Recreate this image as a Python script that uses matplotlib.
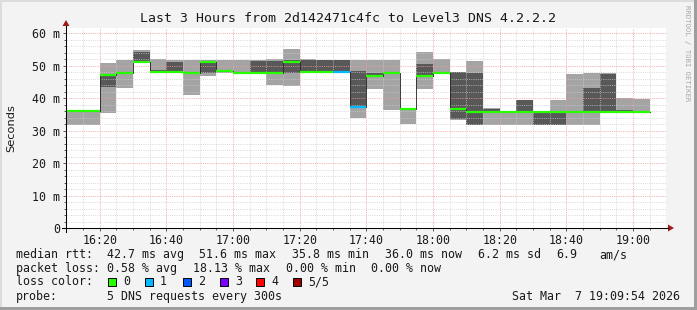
import matplotlib
matplotlib.use("Agg")
import matplotlib.pyplot as plt
import matplotlib.transforms as mtransforms
from matplotlib.lines import Line2D
from matplotlib.patches import Rectangle, Polygon
import numpy as np

# ---------------- data ----------------
step_starts = ["16:10", "16:15", "16:20", "16:25", "16:30", "16:35", "16:40", "16:45",
               "16:50", "16:55", "17:00", "17:05", "17:10", "17:15", "17:20", "17:25",
               "17:30", "17:35", "17:40", "17:45", "17:50", "17:55", "18:00", "18:05",
               "18:10", "18:15", "18:20", "18:25", "18:30", "18:35", "18:40", "18:45",
               "18:50", "18:55", "19:00"]
# sorted ping rtts per step (ms): p1 (fastest) .. p5 (slowest); p3 = median
ping1 = [31.7, 31.7, 35.5, 43.2, 50.8, 48.0, 47.8, 40.9, 46.9, 47.8, 47.7, 47.7, 44.0, 43.7,
         48.0, 47.8, 47.8, 33.9, 42.8, 36.3, 32.0, 42.8, 47.7, 33.4, 31.7, 31.7, 31.7, 31.7,
         31.7, 31.7, 31.7, 31.7, 35.7, 35.8, 35.8]
ping2 = [36.0, 36.0, 43.5, 47.6, 51.0, 48.0, 47.9, 47.6, 47.8, 47.9, 47.8, 47.8, 47.8, 47.8,
         48.1, 47.9, 47.9, 37.3, 46.8, 47.7, 36.8, 46.7, 47.8, 33.5, 31.8, 35.8, 35.8, 35.8,
         31.8, 31.8, 35.7, 35.8, 35.8, 35.8, 35.8]
median = [36.0, 36.0, 47.2, 47.8, 51.0, 48.1, 47.9, 47.8, 51.1, 48.4, 47.8, 47.8, 47.8, 51.2,
          48.1, 47.9, 47.9, 37.4, 46.8, 47.8, 36.8, 46.8, 47.8, 36.7, 35.8, 35.8, 35.8, 35.8,
          35.8, 35.8, 35.8, 35.8, 35.8, 35.8, 35.8]
ping4 = [36.0, 36.0, 47.2, 48.0, 54.2, 48.6, 51.1, 48.0, 51.2, 48.5, 48.0, 51.4, 51.5, 51.7,
         51.7, 51.6, 51.6, 48.3, 47.6, 47.9, 36.8, 50.5, 47.8, 47.9, 47.8, 36.5, 35.8, 39.4,
         35.9, 35.9, 35.9, 43.0, 47.4, 36.2, 35.8]
ping5 = [36.0, 36.0, 50.9, 51.7, 54.8, 52.0, 51.6, 51.7, 51.7, 51.7, 51.7, 51.7, 51.9, 55.1,
         52.0, 51.7, 51.7, 51.7, 51.7, 51.7, 36.9, 54.2, 52.0, 48.1, 51.4, 36.9, 35.9, 39.5,
         36.0, 39.4, 47.4, 47.7, 47.6, 39.9, 39.6]
loss = [0, 0, 0, 0, 0, 0, 0, 0, 0, 0, 0, 0, 0, 0, 0, 0, 1, 1, 0, 0, 0, 0, 0, 0, 0, 0, 0, 0,
        0, 0, 0, 0, 0, 0, 0]

loss_labels = ["0", "1", "2", "3", "4", "5/5"]
loss_colors = ["#26ff00", "#00b8ff", "#0059ff", "#7e00ff", "#ff0000", "#a10000"]

x_tick_labels = ["16:20", "16:40", "17:00", "17:20", "17:40", "18:00", "18:20", "18:40", "19:00"]
y_tick_values = [0, 10, 20, 30, 40, 50, 60]
y_tick_labels = ["0", "10 m", "20 m", "30 m", "40 m", "50 m", "60 m"]

title = "Last 3 Hours from 2d142471c4fc to Level3 DNS 4.2.2.2"
stats_rtt = [("median rtt:", 16), ("42.7 ms avg", 107), ("51.6 ms max", 199),
             ("35.8 ms min", 292), ("36.0 ms now", 385), ("6.2 ms sd", 478),
             ("6.9", 556), ("am/s", 599)]
stats_loss = [("packet loss:", 16), ("0.58 % avg", 107), ("18.13 % max", 193),
              ("0.00 % min", 286), ("0.00 % now", 371)]
probe_text = "5 DNS requests every 300s"
timestamp = "Sat Mar  7 19:09:54 2026"
start_time, end_time = "16:09:54", "19:09:54"


def to_min(s):
    parts = [int(v) for v in s.split(":")]
    m = (parts[0] - 16) * 60 + parts[1]
    if len(parts) > 2:
        m += parts[2] / 60.0
    return m


# ---------------- figure ----------------
W, H = 697, 310
BG = "#f3f3f3"
MONO = "DejaVu Sans Mono"
FS = 8.4

fig = plt.figure(figsize=(W / 100, H / 100), dpi=100, facecolor=BG)
px = mtransforms.Affine2D().scale(1 / W, -1 / H).translate(0, 1) + fig.transFigure

L, R, T, B = 66, 666, 28, 228
ax = fig.add_axes([L / W, (H - B) / H, (R - L) / W, (B - T) / H])
ax.set_facecolor("white")

t_start = np.array([to_min(s) for s in step_starts], dtype=float)
edges = np.append(t_start, t_start[-1] + 5)


def ext(a):
    a = np.asarray(a, dtype=float)
    return np.append(a, a[-1])


# smoke: outer pair light, inner pair dark
ax.fill_between(edges, ext(ping1), ext(ping5), step="post", color="#a4a4a4", lw=0, zorder=1)
ax.fill_between(edges, ext(ping2), ext(ping4), step="post", color="#585858", lw=0, zorder=1.1)
# thin median line
ax.step(edges, ext(median), where="post", color="#202020", lw=0.6, zorder=3)
# coloured median by loss
ax.hlines(median, t_start, t_start + 5, colors=[loss_colors[l] for l in loss],
          lw=1.6, zorder=4)

ax.set_xlim(to_min(start_time), to_min(end_time))
ax.set_ylim(0, 61.6)

major_x = [to_min(s) for s in x_tick_labels]
ax.set_xticks(major_x)
ax.set_xticklabels(x_tick_labels, fontfamily=MONO, fontsize=FS)
ax.set_xticks(np.arange(10, 190, 5), minor=True)
ax.set_yticks(y_tick_values)
ax.set_yticklabels(y_tick_labels, fontfamily=MONO, fontsize=FS)
ax.set_yticks(np.arange(0, 62, 2), minor=True)

ax.grid(which="minor", color="#cccccc", lw=0.72, ls=(0, (1, 1.2)), alpha=0.7, zorder=2.5)
ax.grid(which="major", color="#f29a9a", lw=0.72, ls=(0, (1, 1.2)), alpha=0.8, zorder=2.5)
ax.set_axisbelow(False)

ax.tick_params(axis="both", which="both", direction="out", color="#404040", width=0.6,
               labelcolor="#1a1a1a")
ax.tick_params(axis="both", which="major", length=2.2, pad=2.2)
ax.tick_params(axis="both", which="minor", length=1.5)
for s in ax.spines.values():
    s.set_visible(False)

# axes lines with arrows (pixel coordinates)
fig.add_artist(Line2D([62, 668], [B, B], transform=px, color="black", lw=0.75))
fig.add_artist(Line2D([L, L], [232, 26], transform=px, color="black", lw=0.75))
fig.add_artist(Polygon([[668, B - 3.5], [674, B], [668, B + 3.5]], closed=True,
                       transform=px, color="#9c1c1c", lw=0))
fig.add_artist(Polygon([[L - 3.5, 26], [L, 20], [L + 3.5, 26]], closed=True,
                       transform=px, color="#9c1c1c", lw=0))

# title and labels
fig.text(348.5 / W, 1 - 19 / H, title, fontfamily=MONO, fontsize=9.5, ha="center",
         va="center", color="#1a1a1a")
fig.text(11 / W, 1 - 128 / H, "Seconds", fontfamily="DejaVu Sans", fontsize=8.2,
         rotation=90, ha="center", va="center", color="#1a1a1a")
fig.text(686.5 / W, 1 - 5 / H, "RRDTOOL / TOBI OETIKER", fontfamily=MONO, fontsize=5.2,
         rotation=-90, ha="center", va="top", color="#a8a8a8")

# legend rows
rows_y = [254.5, 268.3, 281.8, 296.5]
for txt, x in stats_rtt:
    fig.text(x / W, 1 - rows_y[0] / H, txt, fontfamily=MONO, fontsize=FS, ha="left",
             va="center", color="#1a1a1a")
for txt, x in stats_loss:
    fig.text(x / W, 1 - rows_y[1] / H, txt, fontfamily=MONO, fontsize=FS, ha="left",
             va="center", color="#1a1a1a")
fig.text(16 / W, 1 - rows_y[2] / H, "loss color:", fontfamily=MONO, fontsize=FS,
         ha="left", va="center", color="#1a1a1a")
box_x = [108, 145, 183, 220, 256, 293]
for bx, lab, col in zip(box_x, loss_labels, loss_colors):
    fig.add_artist(Rectangle((bx, rows_y[2] + 4), 8, -8, transform=px, facecolor=col,
                             edgecolor="black", lw=0.7))
    fig.text((bx + 15) / W, 1 - rows_y[2] / H, lab, fontfamily=MONO, fontsize=FS,
             ha="left", va="center", color="#1a1a1a")
fig.text(16 / W, 1 - rows_y[3] / H, "probe:", fontfamily=MONO, fontsize=FS, ha="left",
         va="center", color="#1a1a1a")
fig.text(107 / W, 1 - rows_y[3] / H, probe_text, fontfamily=MONO, fontsize=FS, ha="left",
         va="center", color="#1a1a1a")
fig.text(680 / W, 1 - rows_y[3] / H, timestamp, fontfamily=MONO, fontsize=FS, ha="right",
         va="center", color="#1a1a1a")

# 3D-ish frame
fig.add_artist(Rectangle((0, 0), W, 2, transform=px, facecolor="#dcdcdc", lw=0))
fig.add_artist(Rectangle((0, 0), 2, H, transform=px, facecolor="#dcdcdc", lw=0))
fig.add_artist(Rectangle((0, H - 3), W, 3, transform=px, facecolor="#9e9e9e", lw=0))
fig.add_artist(Rectangle((W - 3, 0), 3, H, transform=px, facecolor="#9e9e9e", lw=0))

fig.savefig("out.png", dpi=100, facecolor=BG)
